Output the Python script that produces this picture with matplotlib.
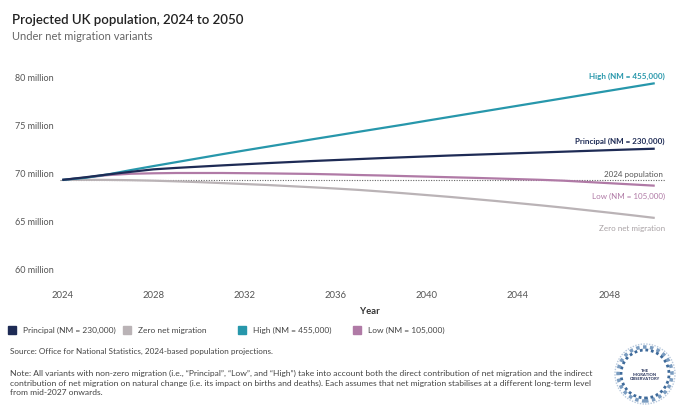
import matplotlib
matplotlib.use("Agg")
import matplotlib.pyplot as plt
from matplotlib.patches import Rectangle, Circle

plt.rcParams["font.family"] = ["Lato", "DejaVu Sans"]

# ---------------------------------------------------------
# Data (millions)
# ---------------------------------------------------------
years = list(range(2024, 2051))

principal = [69.28, 69.55, 69.85, 70.12, 70.38, 70.53, 70.66, 70.79, 70.91,
             71.03, 71.14, 71.25, 71.35, 71.45, 71.55, 71.64, 71.73, 71.82,
             71.90, 71.98, 72.06, 72.14, 72.22, 72.30, 72.38, 72.46, 72.53]

zero_nm = [69.28, 69.29, 69.28, 69.25, 69.20, 69.13, 69.05, 68.95, 68.85,
           68.75, 68.63, 68.51, 68.38, 68.24, 68.07, 67.89, 67.70, 67.51,
           67.30, 67.09, 66.86, 66.63, 66.39, 66.13, 65.87, 65.60, 65.32]

high = [69.28, 69.50, 69.85, 70.30, 70.72, 71.13, 71.54, 71.95, 72.35,
        72.74, 73.13, 73.52, 73.90, 74.29, 74.67, 75.05, 75.45, 75.84,
        76.23, 76.62, 77.01, 77.40, 77.79, 78.18, 78.57, 78.96, 79.35]

low = [69.28, 69.52, 69.78, 69.92, 69.97, 70.00, 70.00, 70.00, 69.98,
       69.96, 69.93, 69.90, 69.85, 69.79, 69.74, 69.68, 69.62, 69.56,
       69.50, 69.43, 69.36, 69.29, 69.20, 69.07, 68.94, 68.81, 68.68]

pop_2024 = 69.28

legend_names = ["Principal (NM = 230,000)", "Zero net migration",
                "High (NM = 455,000)", "Low (NM = 105,000)"]
end_labels = ["Principal (NM = 230,000)", "Zero net migration",
              "High (NM = 455,000)", "Low (NM = 105,000)"]
series = [principal, zero_nm, high, low]
colors = ["#1e2b55", "#bab3b6", "#2797ab", "#b07aa6"]
label_colors = ["#1e2b55", "#a9a2a5", "#2797ab", "#b07aa6"]
label_weights = ["bold", "normal", "bold", "normal"]
label_offsets = [(10, 8), (10, -10), (10, 7.5), (10, -9.5)]
z_orders = [5, 2, 4, 3]

y_ticks = [60, 65, 70, 75, 80]
y_tick_labels = [f"{v} million" for v in y_ticks]
x_ticks = [2024, 2028, 2032, 2036, 2040, 2044, 2048]

# ---------------------------------------------------------
# Figure
# ---------------------------------------------------------
W, H = 680, 410
fig = plt.figure(figsize=(W / 100, H / 100), dpi=100)
ax = fig.add_axes([60 / W, 1 - 270 / H, 605 / W, 192 / H])

ax.axhline(pop_2024, color="#666666", lw=0.8, ls=(0, (1, 1.3)), zorder=1)

for vals, col, z in zip(series, colors, z_orders):
    ax.plot(years, vals, color=col, lw=1.6, zorder=z, solid_capstyle="butt")

for vals, lab, col, wt, off in zip(series, end_labels, label_colors,
                                   label_weights, label_offsets):
    ax.annotate(lab, xy=(years[-1], vals[-1]), xytext=off,
                textcoords="offset pixels", ha="right", va="center",
                fontsize=5.8, color=col, fontweight=wt)

ax.annotate("2024 population", xy=(years[-1], pop_2024), xytext=(8, 6),
            textcoords="offset pixels", ha="right", va="center",
            fontsize=5.8, color="#555555")

ax.set_xlim(2023.9, 2050.45)
ax.set_ylim(60, 80)
ax.set_yticks(y_ticks)
ax.set_yticklabels(y_tick_labels)
ax.set_xticks(x_ticks)
ax.tick_params(length=0, colors="#555555")
ax.tick_params(axis="y", pad=4.5, labelsize=6.5)
ax.tick_params(axis="x", pad=15, labelsize=6.8)
for s in ax.spines.values():
    s.set_visible(False)

# Titles
fig.text(12 / W, 1 - 20 / H, "Projected UK population, 2024 to 2050",
         fontsize=9.5, fontweight="semibold", color="#222222", va="center")
fig.text(12 / W, 1 - 37 / H, "Under net migration variants",
         fontsize=8, color="#666666", va="center")

fig.text(370 / W, 1 - 312 / H, "Year", fontsize=6.8, fontweight="bold",
         color="#333333", ha="center", va="center")

# Legend
for i, (name, col) in enumerate(zip(legend_names, colors)):
    x0 = 12 + i * 115
    fig.patches.append(Rectangle(((x0 - 4) / W, 1 - 334.5 / H), 8 / W, 8 / H,
                                 transform=fig.transFigure, color=col))
    fig.text((x0 + 11) / W, 1 - 330.5 / H, name, fontsize=6,
             color="#444444", va="center")

# Source and note
fig.text(10 / W, 1 - 351.5 / H,
         "Source: Office for National Statistics, 2024-based population projections.",
         fontsize=5.9, color="#444444", va="center")
fig.text(10 / W, 1 - 369.5 / H,
         "Note: All variants with non-zero migration (i.e., \u201cPrincipal\u201d, \u201cLow\u201d, "
         "and \u201cHigh\u201d) take into account both the direct contribution of net "
         "migration and the indirect\ncontribution of net migration on natural change "
         "(i.e. its impact on births and deaths). Each assumes that net migration "
         "stabilises at a different long-term level\nfrom mid-2027 onwards.",
         fontsize=6.1, color="#444444", va="top", linespacing=1.45)

# Logo
cx, cy = 645 / W, 1 - 375 / H
for r, lw, c in [(27, 2.5, "#7a9cc0"), (24, 2.0, "#3e6a9a"), (30, 1.0, "#b7c8dc")]:
    fig.patches.append(Circle((645, H - 375), r, transform=None, fill=False,
                              lw=lw, ls=(0, (1, 1)), color=c))
fig.text(cx, cy, "THE\nMIGRATION\nOBSERVATORY", fontsize=3.0, color="#1e2b55",
         ha="center", va="center", linespacing=1.0, fontweight="bold")

fig.savefig("out.png", dpi=100)
